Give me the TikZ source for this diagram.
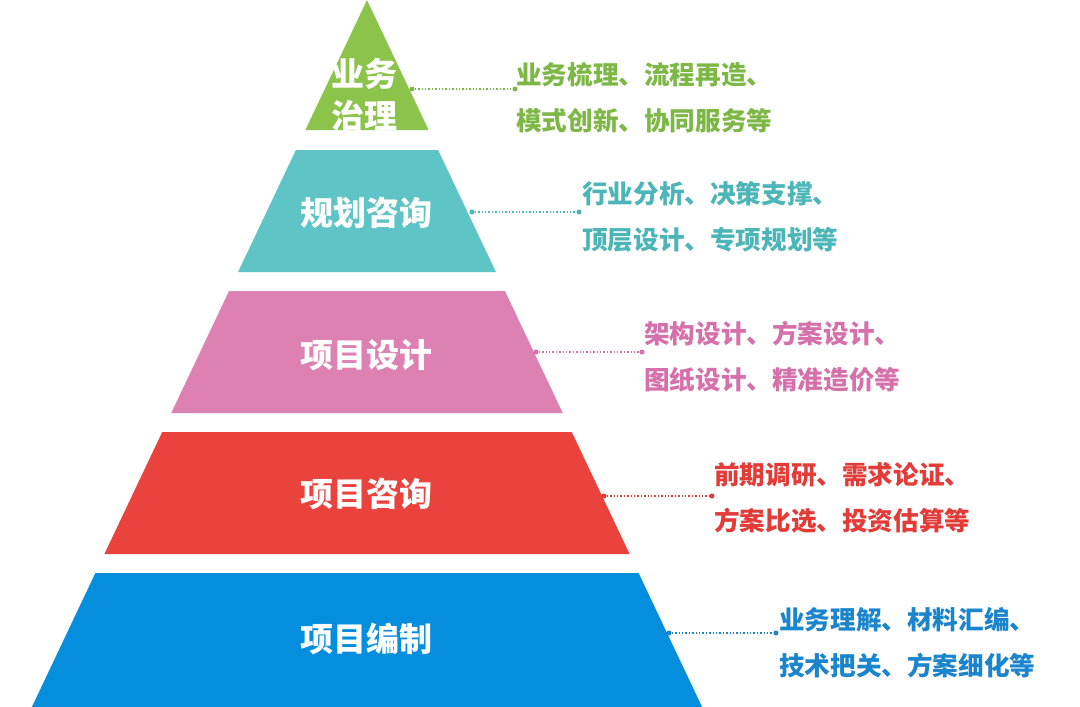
\documentclass[tikz,border=0pt]{standalone}
\usepackage{fontspec}
\newfontfamily\cjk{Noto Sans CJK SC}
\newfontfamily\cjkblack{Noto Sans CJK SC Black}
\definecolor{tgreen}{HTML}{8CC34B}
\definecolor{tteal}{HTML}{5EC4C5}
\definecolor{tpink}{HTML}{DD80B2}
\definecolor{tred}{HTML}{EA433E}
\definecolor{tblue}{HTML}{058EDD}
\definecolor{xgreen}{HTML}{7DB846}
\definecolor{xteal}{HTML}{4BB5B8}
\definecolor{xpink}{HTML}{D670AA}
\definecolor{xred}{HTML}{E33B38}
\definecolor{xblue}{HTML}{1A84CC}
\tikzset{
  tierlabel/.style={text=white,font=\cjkblack\fontsize{33}{42}\selectfont,align=center,inner sep=0pt},
  desc/.style={font=\cjk\bfseries\fontsize{25.6}{46}\selectfont,align=left,anchor=west,inner sep=0pt},
  conn/.style={dotted,line width=1.4pt},
  enddot/.style={circle,fill,inner sep=0pt,minimum size=5pt}
}
\newcommand{\tierpoly}[3]{%
  \fill[#3] ({367-0.474*#1},#1) -- ({367+0.474*#1},#1) -- ({367+0.474*#2},#2) -- ({367-0.474*#2},#2) -- cycle;}
\begin{document}
\begin{tikzpicture}[x=1pt,y=-1pt]
\useasboundingbox (0,0) rectangle (1080,707);
\fill[white] (0,0) rectangle (1080,707);
% tiers
\fill[tgreen] (367,0) -- ({367+0.474*130},130) -- ({367-0.474*130},130) -- cycle;
\tierpoly{150}{272}{tteal}
\tierpoly{291}{413}{tpink}
\tierpoly{432}{554}{tred}
\tierpoly{573}{707}{tblue}
% labels
\node[tierlabel] (l1) at (364,95) {业务\\治理};
\node[tierlabel] (l2) at (366,213) {规划咨询};
\node[tierlabel] (l3) at (366,355) {项目设计};
\node[tierlabel] (l4) at (366,494) {项目咨询};
\node[tierlabel] (l5) at (366,639) {项目编制};
% descriptions
\node[desc,text=xgreen] (d1) at (516,97.5) {业务梳理、流程再造、\\模式创新、协同服务等};
\node[desc,text=xteal] (d2) at (582,217) {行业分析、决策支撑、\\顶层设计、专项规划等};
\node[desc,text=xpink] (d3) at (644,357) {架构设计、方案设计、\\图纸设计、精准造价等};
\node[desc,text=xred] (d4) at (714,498) {前期调研、需求论证、\\方案比选、投资估算等};
\node[desc,text=xblue] (d5) at (779,643) {业务理解、材料汇编、\\技术把关、方案细化等};
% connectors
\foreach \i/\ya/\xa/\xb/\c in {1/89/412/515/xgreen,2/212/472/579/xteal,3/352/536/642/xpink,4/496/604/712/xred,5/633/669/776/xblue}{
  \node[enddot,\c] (s\i) at (\xa,\ya) {};
  \node[enddot,\c] (e\i) at (\xb,\ya) {};
  \draw[conn,\c] (s\i) -- (e\i);
}
\end{tikzpicture}
\end{document}
